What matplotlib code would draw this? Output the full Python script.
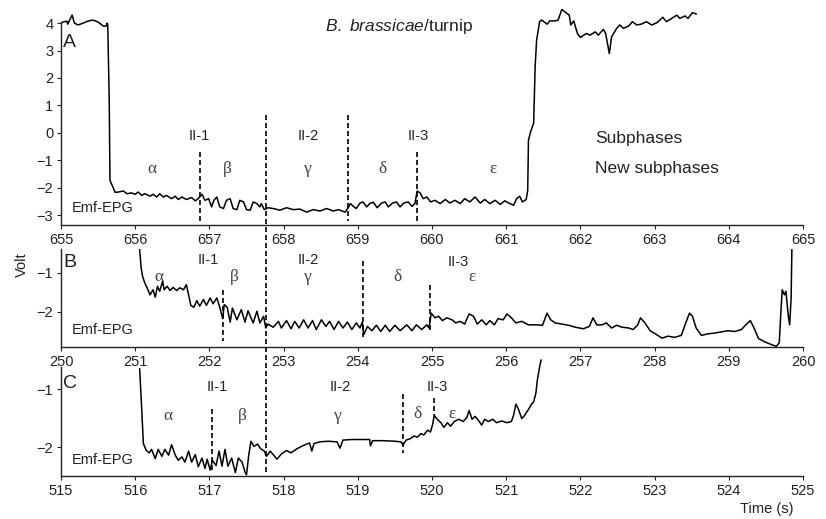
import matplotlib
matplotlib.use("Agg")
import matplotlib.pyplot as plt
from matplotlib.lines import Line2D

plt.rcParams['font.family'] = ['Liberation Sans', 'DejaVu Sans']
plt.rcParams['mathtext.fontset'] = 'custom'
plt.rcParams['mathtext.rm'] = 'Liberation Sans'
plt.rcParams['mathtext.it'] = 'Liberation Sans:italic'

# ---------------- data ----------------
# Panel A (B. brassicae / turnip)
a_t = [655.0, 655.03, 655.08, 655.09, 655.15, 655.18, 655.23, 655.30, 655.36, 655.43, 655.50, 655.57, 655.61,
       655.62, 655.63, 655.65, 655.66, 655.70, 655.73, 655.77, 655.84, 655.89, 655.95, 656.0, 656.04, 656.09,
       656.13, 656.20, 656.24, 656.29, 656.33, 656.38, 656.42, 656.49, 656.54, 656.58, 656.63, 656.69, 656.76,
       656.81, 656.85, 656.90, 656.94, 656.99, 657.03, 657.06, 657.10, 657.14, 657.19, 657.23, 657.28, 657.32,
       657.37, 657.41, 657.46, 657.50, 657.55, 657.59, 657.64, 657.68, 657.70, 657.74, 657.79, 657.86, 657.95,
       658.04, 658.13, 658.22, 658.31, 658.40, 658.49, 658.58, 658.67, 658.74, 658.83, 658.87, 658.90, 658.94,
       658.98, 659.03, 659.07, 659.12, 659.16, 659.21, 659.26, 659.32, 659.37, 659.41, 659.47, 659.52, 659.57,
       659.62, 659.68, 659.73, 659.77, 659.80, 659.84, 659.88, 659.93, 659.98, 660.04, 660.11, 660.18, 660.24,
       660.31, 660.38, 660.44, 660.51, 660.58, 660.65, 660.71, 660.78, 660.85, 660.92, 660.98, 661.05, 661.10,
       661.14, 661.18, 661.22, 661.27, 661.29, 661.30, 661.33, 661.37, 661.39, 661.41, 661.45, 661.48, 661.55,
       661.59, 661.66, 661.70, 661.75, 661.79, 661.85, 661.87, 661.91, 661.96, 662.00, 662.08, 662.13, 662.20,
       662.24, 662.31, 662.34, 662.39, 662.42, 662.49, 662.53, 662.58, 662.65, 662.70, 662.76, 662.82, 662.89,
       662.96, 663.03, 663.11, 663.16, 663.23, 663.30, 663.34, 663.41, 663.45, 663.51, 663.56]
a_v = [4.0, 4.04, 4.07, 3.96, 4.29, 4.0, 3.93, 4.0, 4.07, 4.11, 4.04, 3.89, 3.89,
       4.0, 3.93, 1.19, -1.73, -1.98, -2.17, -2.16, -2.12, -2.22, -2.19, -2.24, -2.16, -2.28,
       -2.22, -2.31, -2.24, -2.34, -2.22, -2.34, -2.28, -2.40, -2.31, -2.43, -2.34, -2.43, -2.36,
       -2.48, -2.40, -2.24, -2.46, -2.40, -2.70, -2.46, -2.34, -2.70, -2.76, -2.46, -2.40, -2.76,
       -2.80, -2.46, -2.52, -2.80, -2.82, -2.52, -2.58, -2.70, -2.58, -2.80, -2.73, -2.76, -2.82,
       -2.73, -2.80, -2.78, -2.89, -2.80, -2.85, -2.76, -2.85, -2.80, -2.89, -2.73, -2.58, -2.68,
       -2.76, -2.56, -2.52, -2.70, -2.58, -2.53, -2.73, -2.56, -2.52, -2.70, -2.56, -2.52, -2.70,
       -2.56, -2.52, -2.68, -2.58, -2.12, -2.19, -2.40, -2.34, -2.52, -2.46, -2.58, -2.43, -2.56,
       -2.46, -2.58, -2.40, -2.52, -2.34, -2.56, -2.43, -2.58, -2.46, -2.61, -2.48, -2.58, -2.64,
       -2.40, -2.31, -2.52, -2.43, -2.09, -0.27, 0.05, 0.35, 2.41, 3.38, 4.05, 4.11, 3.96,
       4.08, 4.08, 4.11, 4.50, 4.41, 4.29, 3.93, 4.08, 3.62, 3.48, 3.62, 3.56, 3.68,
       3.56, 3.77, 3.62, 2.89, 3.50, 3.81, 3.93, 3.81, 3.89, 4.05, 3.93, 3.96, 4.05,
       3.93, 4.01, 4.21, 4.05, 4.17, 4.29, 4.17, 4.26, 4.17, 4.38, 4.33]

# Panel B
b_t = [251.06, 251.08, 251.10, 251.13, 251.16, 251.20, 251.24, 251.27, 251.30, 251.33, 251.37, 251.39, 251.43,
       251.47, 251.51, 251.56, 251.60, 251.65, 251.69, 251.72, 251.75, 251.79, 251.83, 251.87, 251.92, 251.96,
       252.01, 252.05, 252.10, 252.14, 252.18, 252.20, 252.24, 252.28, 252.31, 252.37, 252.43, 252.48, 252.52,
       252.59, 252.64, 252.68, 252.73, 252.76, 252.79, 252.86, 252.93, 252.97, 253.04, 253.10, 253.15, 253.21,
       253.27, 253.33, 253.39, 253.44, 253.51, 253.57, 253.62, 253.68, 253.74, 253.80, 253.86, 253.92, 253.98,
       254.03, 254.06, 254.08, 254.13, 254.19, 254.25, 254.31, 254.37, 254.43, 254.50, 254.57, 254.66, 254.73,
       254.79, 254.86, 254.93, 254.96, 254.99, 255.04, 255.09, 255.14, 255.20, 255.27, 255.32, 255.38, 255.44,
       255.50, 255.56, 255.61, 255.67, 255.73, 255.78, 255.84, 255.89, 255.96, 256.01, 256.07, 256.13, 256.21,
       256.30, 256.41, 256.49, 256.55, 256.60, 256.66, 256.75, 256.84, 256.93, 257.04, 257.12, 257.17, 257.22,
       257.29, 257.35, 257.42, 257.49, 257.56, 257.65, 257.71, 257.77, 257.81, 257.87, 257.94, 258.01, 258.10,
       258.18, 258.27, 258.36, 258.42, 258.47, 258.51, 258.56, 258.63, 258.72, 258.81, 258.90, 258.99, 259.08,
       259.17, 259.24, 259.29, 259.34, 259.40, 259.49, 259.58, 259.64, 259.68, 259.70, 259.72, 259.75, 259.77,
       259.80, 259.82, 259.84, 259.85]
b_v = [-0.40, -0.87, -1.09, -1.26, -1.38, -1.56, -1.43, -1.62, -1.34, -1.47, -1.21, -1.43, -1.34,
       -1.45, -1.37, -1.45, -1.38, -1.43, -1.30, -1.56, -1.83, -1.88, -1.71, -1.85, -1.68, -1.83,
       -1.64, -1.79, -1.64, -1.88, -2.17, -1.81, -1.88, -2.26, -1.90, -2.20, -1.94, -2.26, -1.97,
       -2.28, -1.98, -2.28, -2.11, -2.41, -2.31, -2.39, -2.24, -2.41, -2.22, -2.43, -2.24, -2.41,
       -2.20, -2.41, -2.22, -2.45, -2.20, -2.37, -2.24, -2.45, -2.24, -2.41, -2.26, -2.45, -2.28,
       -2.41, -2.26, -2.58, -2.37, -2.48, -2.34, -2.50, -2.34, -2.50, -2.34, -2.48, -2.33, -2.48,
       -2.33, -2.45, -2.33, -2.41, -2.03, -2.15, -2.11, -2.22, -2.15, -2.20, -2.28, -2.24, -2.31,
       -2.05, -2.11, -2.31, -2.20, -2.33, -2.22, -2.33, -2.17, -2.20, -2.05, -2.15, -2.28, -2.24,
       -2.33, -2.33, -2.34, -2.03, -2.20, -2.28, -2.31, -2.34, -2.39, -2.43, -2.37, -2.15, -2.33,
       -2.33, -2.28, -2.41, -2.34, -2.39, -2.41, -2.45, -2.34, -2.15, -2.28, -2.48, -2.56, -2.67,
       -2.62, -2.65, -2.60, -2.28, -2.03, -2.11, -2.41, -2.60, -2.56, -2.54, -2.51, -2.48, -2.50,
       -2.45, -2.31, -2.22, -2.41, -2.68, -2.77, -2.84, -2.88, -2.79, -2.07, -1.43, -1.56, -1.47,
       -2.07, -2.33, -1.64, -0.40]

# Panel C
c_t = [516.06, 516.09, 516.11, 516.15, 516.19, 516.22, 516.27, 516.31, 516.36, 516.40, 516.45, 516.49, 516.54,
       516.58, 516.63, 516.67, 516.72, 516.76, 516.81, 516.85, 516.90, 516.94, 516.97, 517.01, 517.04, 517.09,
       517.13, 517.17, 517.21, 517.25, 517.30, 517.35, 517.39, 517.44, 517.48, 517.50, 517.53, 517.56, 517.60,
       517.65, 517.69, 517.74, 517.77, 517.82, 517.86, 517.91, 517.97, 518.04, 518.10, 518.18, 518.27, 518.35,
       518.38, 518.41, 518.49, 518.60, 518.72, 518.76, 518.80, 518.92, 519.05, 519.16, 519.17, 519.20, 519.34,
       519.50, 519.58, 519.61, 519.65, 519.70, 519.76, 519.80, 519.85, 519.89, 519.94, 519.98, 520.01, 520.03,
       520.07, 520.12, 520.16, 520.21, 520.25, 520.30, 520.36, 520.42, 520.47, 520.50, 520.54, 520.58, 520.62,
       520.67, 520.71, 520.76, 520.82, 520.87, 520.94, 521.01, 521.07, 521.10, 521.13, 521.16, 521.21, 521.25,
       521.31, 521.34, 521.37, 521.40, 521.42, 521.45, 521.47]
c_v = [-0.65, -1.40, -1.94, -2.06, -2.10, -2.04, -2.20, -2.04, -2.16, -2.04, -2.14, -1.96, -2.14,
       -2.23, -2.17, -2.26, -2.07, -2.26, -2.13, -2.34, -2.19, -2.37, -2.21, -2.40, -2.23, -2.32,
       -2.07, -2.33, -2.04, -2.33, -2.19, -2.44, -2.19, -2.26, -2.43, -2.48, -2.14, -1.90, -1.99,
       -1.95, -2.03, -2.07, -2.16, -2.07, -2.13, -2.21, -2.12, -2.06, -2.10, -2.03, -1.97, -1.93,
       -2.07, -1.94, -1.91, -1.90, -1.91, -2.02, -1.88, -1.87, -1.87, -1.87, -1.98, -1.89, -1.89,
       -1.90, -1.91, -1.97, -1.88, -1.86, -1.81, -1.83, -1.77, -1.79, -1.71, -1.74, -1.60, -1.45,
       -1.52, -1.58, -1.66, -1.58, -1.64, -1.56, -1.52, -1.56, -1.49, -1.37, -1.52, -1.47, -1.53,
       -1.62, -1.52, -1.56, -1.52, -1.58, -1.55, -1.58, -1.56, -1.45, -1.26, -1.33, -1.51, -1.45,
       -1.33, -1.26, -1.22, -1.07, -0.84, -0.62, -0.50]

# axis setup
xlims = [(655, 665), (250, 260), (515, 525)]
ylims = [(-3.36, 4.52), (-2.9, -0.38), (-2.5, -0.48)]
spine_tops = [4.05, -0.38, -0.62]
yticks = [[-3, -2, -1, 0, 1, 2, 3, 4], [-2, -1], [-2, -1]]
panel_letters = ["A", "B", "C"]

# subphase labels: (text, x, y)
phase_labels = [
    [("II-1", 656.86, -0.27), ("II-2", 658.33, -0.27), ("II-3", 659.82, -0.27)],
    [("II-1", 251.99, -0.77), ("II-2", 253.33, -0.77), ("II-3", 255.35, -0.82)],
    [("II-1", 517.10, -1.03), ("II-2", 518.77, -1.03), ("II-3", 520.07, -1.03)],
]
greek_labels = [
    [("α", 656.23, -1.47), ("β", 657.24, -1.47), ("γ", 658.32, -1.47), ("δ", 659.33, -1.47), ("ε", 660.82, -1.47)],
    [("α", 251.32, -1.20), ("β", 252.33, -1.20), ("γ", 253.32, -1.20), ("δ", 254.54, -1.20), ("ε", 255.54, -1.20)],
    [("α", 516.44, -1.53), ("β", 517.45, -1.53), ("γ", 518.73, -1.53), ("δ", 519.80, -1.50), ("ε", 520.27, -1.50)],
]
# dashed boundaries: (x, ytop, ybottom)
boundaries = [
    [(656.87, -0.71, -3.2), (658.87, 0.64, -3.2), (659.80, -0.71, -3.2)],
    [(252.18, -1.43, -2.75), (254.07, -0.68, -2.65), (254.97, -1.32, -2.5)],
    [(517.03, -1.34, -2.43), (519.61, -1.09, -2.10), (520.03, -1.16, -1.45)],
]
emf_pos = [(655.15, -2.90), (250.15, -2.56), (515.15, -2.29)]
letter_pos = [(655.03, 3.12), (250.03, -0.85), (515.03, -0.98)]
long_boundary_x = 2.76  # offset from each panel start (s)

# ---------------- figure ----------------
W, H = 826, 519
fig = plt.figure(figsize=(W / 100, H / 100), dpi=100)
txt = '#222222'
left = 61 / W
width = 742 / W
# (top_px, bottom_px)
rects = [(8.8, 225), (248.8, 347.1), (359, 476)]
axes = []
traces = [(a_t, a_v), (b_t, b_v), (c_t, c_v)]
dash = (0, (3.0, 1.8))
for i, (top, bot) in enumerate(rects):
    ax = fig.add_axes([left, (H - bot) / H, width, (bot - top) / H])
    ax.patch.set_visible(False)
    axes.append(ax)
    t, v = traces[i]
    ax.plot(t, v, color='black', lw=1.1, solid_joinstyle='round')
    ax.set_xlim(*xlims[i])
    ax.set_ylim(*ylims[i])
    ax.set_xticks(range(xlims[i][0], xlims[i][1] + 1))
    ax.set_yticks(yticks[i])
    for s in ['top', 'right']:
        ax.spines[s].set_visible(False)
    for s in ['left', 'bottom']:
        ax.spines[s].set_linewidth(1.0)
        ax.spines[s].set_color('#222222')
    ax.spines['left'].set_bounds(ylims[i][0], spine_tops[i])
    ax.tick_params(axis='both', direction='out', length=3, width=0.8, colors=txt,
                   labelsize=10.5, pad=2.5)
    for (lab, x, y) in phase_labels[i]:
        ax.text(x, y, lab, ha='center', va='baseline', fontsize=10.5, color=txt)
    for (lab, x, y) in greek_labels[i]:
        ax.text(x, y, lab, ha='center', va='baseline', fontsize=12.5, color='#444444',
                family=['Liberation Serif', 'DejaVu Serif'])
    for (x, y0, y1) in boundaries[i]:
        ax.plot([x, x], [y0, y1], color='black', lw=1.2, linestyle=dash)
    ax.text(emf_pos[i][0], emf_pos[i][1], "Emf-EPG", ha='left', va='baseline', fontsize=10.5, color=txt)
    ax.text(letter_pos[i][0], letter_pos[i][1], panel_letters[i], ha='left', va='baseline', fontsize=14, color=txt)

axA, axB, axC = axes
axA.text(659.56, 3.71, r"$\mathit{B.\ brassicae}$/turnip", ha='center', va='baseline', fontsize=12.5, color=txt)
axA.text(662.2, -0.38, "Subphases", ha='left', va='baseline', fontsize=12.5, color=txt)
axA.text(662.2, -1.47, "New subphases", ha='left', va='baseline', fontsize=12.5, color=txt)

# long boundary spanning all three panels
inv = fig.transFigure.inverted()
p1 = inv.transform(axA.transData.transform((xlims[0][0] + long_boundary_x, 0.64)))
p2 = inv.transform(axC.transData.transform((xlims[2][0] + long_boundary_x, -2.43)))
fig.add_artist(Line2D([p1[0], p2[0]], [p1[1], p2[1]], color='black', lw=1.2, linestyle=dash,
                      transform=fig.transFigure))

fig.text(22 / W, (H - 265) / H, "Volt", rotation=90, ha='center', va='center', fontsize=10.5, color=txt)
fig.text(793 / W, 5.5 / H, "Time (s)", ha='right', va='baseline', fontsize=10.5, color=txt)

fig.savefig("out.png", dpi=100)
